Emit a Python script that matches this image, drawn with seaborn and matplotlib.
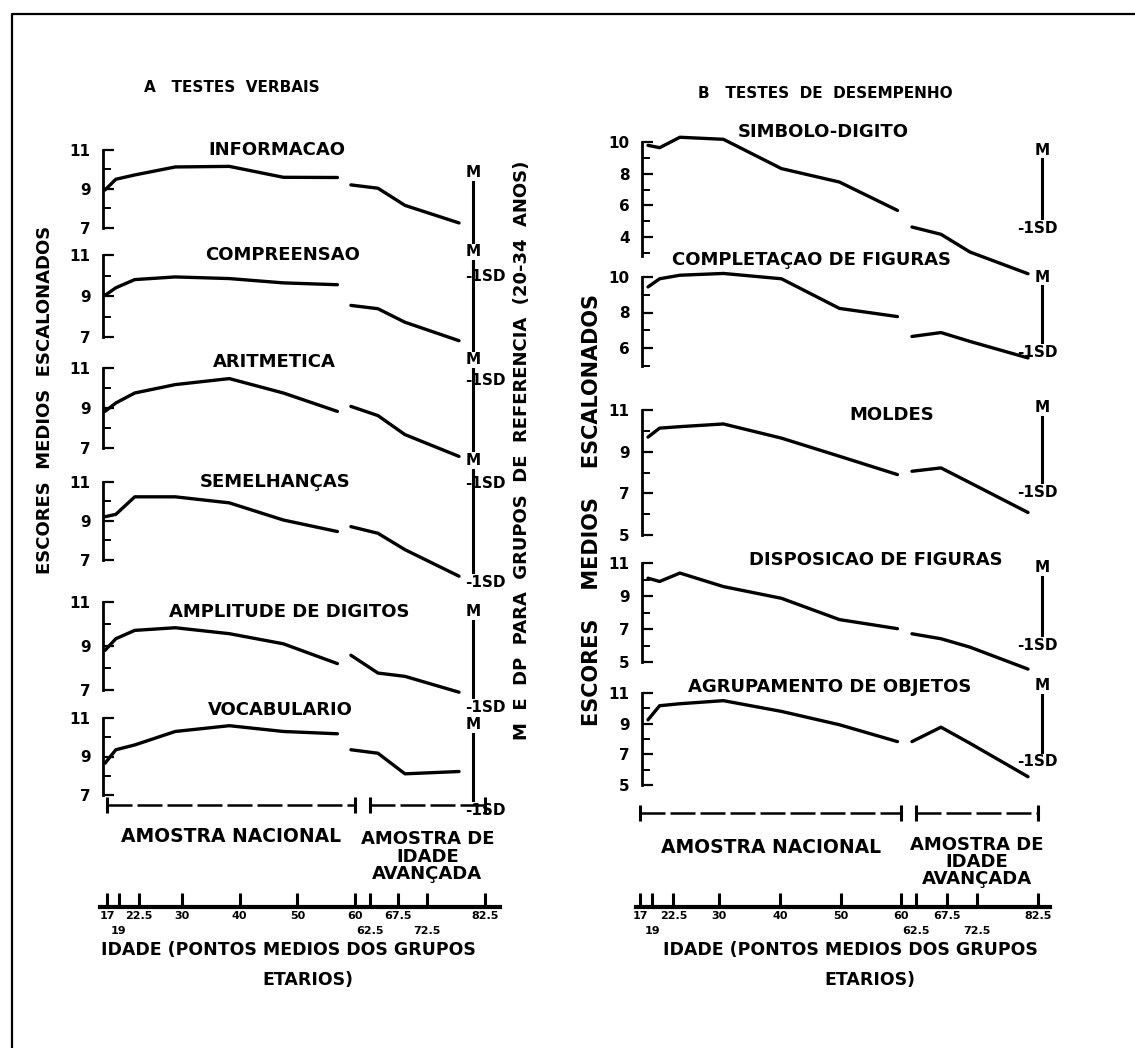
import matplotlib
matplotlib.use("Agg")
import matplotlib.pyplot as plt
import matplotlib.transforms as mtransforms
from matplotlib.lines import Line2D
import seaborn as sns

# ==========================================
# DATA
# ==========================================

ages_nat = [17, 19, 22.5, 30, 40, 50, 60]
ages_old = [62.5, 67.5, 72.5, 82.5]

# age axis labels are printed on two staggered rows
age_ticks_top = [17, 22.5, 30, 40, 50, 60, 67.5, 82.5]
age_labels_top = ["17", "22.5", "30", "40", "50", "60", "67.5", "82.5"]
age_ticks_low = [19, 62.5, 72.5]
age_labels_low = ["19", "62.5", "72.5"]

# A - verbal tests
verbal_names = ["INFORMACAO", "COMPREENSAO", "ARITMETICA",
                "SEMELHANÇAS", "AMPLITUDE DE DIGITOS", "VOCABULARIO"]

info_nat = [8.95, 9.5, 9.72, 10.13, 10.16, 9.6, 9.59]
info_old = [9.21, 9.04, 8.16, 7.26]
comp_nat = [9.03, 9.4, 9.8, 9.93, 9.85, 9.64, 9.55]
comp_old = [8.54, 8.38, 7.72, 6.82]
arit_nat = [8.83, 9.25, 9.75, 10.17, 10.47, 9.75, 8.83]
arit_old = [9.08, 8.62, 7.67, 6.58]
seme_nat = [9.22, 9.34, 10.24, 10.24, 9.93, 9.05, 8.46]
seme_old = [8.71, 8.37, 7.53, 6.17]
ampl_nat = [8.8, 9.33, 9.71, 9.83, 9.56, 9.1, 8.2]
ampl_old = [8.58, 7.77, 7.62, 6.9]
voca_nat = [8.65, 9.35, 9.6, 10.3, 10.6, 10.3, 10.18]
voca_old = [9.35, 9.17, 8.1, 8.22]

verbal_nat = [info_nat, comp_nat, arit_nat, seme_nat, ampl_nat, voca_nat]
verbal_old = [info_old, comp_old, arit_old, seme_old, ampl_old, voca_old]

# mean and -1 SD of reference group (20-34), in each subtest's scale
verbal_m = [9.83, 11.15, 11.4, 12.1, 10.55, 10.64]
verbal_sd = [4.52, 4.87, 5.25, 5.85, 6.2, 6.2]

# B - performance tests
perf_names = ["SIMBOLO-DIGITO", "COMPLETAÇAO DE FIGURAS", "MOLDES",
              "DISPOSICAO DE FIGURAS", "AGRUPAMENTO DE OBJETOS"]

simb_nat = [9.79, 9.64, 10.3, 10.17, 8.32, 7.47, 5.68]
simb_old = [4.63, 4.17, 3.05, 1.68]
cfig_nat = [9.44, 9.9, 10.1, 10.2, 9.9, 8.23, 7.77]
cfig_old = [6.65, 6.87, 6.37, 5.44]
mold_nat = [9.7, 10.13, 10.2, 10.33, 9.65, 8.78, 7.9]
mold_old = [8.06, 8.22, 7.51, 6.08]
disp_nat = [10.08, 9.88, 10.39, 9.57, 8.86, 7.57, 7.02]
disp_old = [6.71, 6.41, 5.9, 4.57]
agru_nat = [9.25, 10.17, 10.3, 10.5, 9.8, 8.93, 7.83]
agru_old = [7.83, 8.77, 7.72, 5.54]

perf_nat = [simb_nat, cfig_nat, mold_nat, disp_nat, agru_nat]
perf_old = [simb_old, cfig_old, mold_old, disp_old, agru_old]

perf_m = [9.49, 10.0, 11.1, 10.7, 11.5]
perf_sd = [4.56, 5.75, 7.06, 6.0, 6.5]

verbal_yticks = [[11, 9, 7]] * 6
perf_yticks = [[10, 8, 6, 4], [10, 8, 6], [11, 9, 7, 5], [11, 9, 7, 5], [11, 9, 7, 5]]

# ==========================================
# LAYOUT (pixels of the 1135x1048 page)
# ==========================================

W, H = 1135, 1048

# (pixel of top tick, pixel of bottom tick)
verbal_rows = [(150, 228), (255, 337), (368, 448), (482, 560), (602, 690), (718, 795)]
perf_rows = [(142, 237), (277, 348), (410, 535), (563, 662), (693, 785)]
verbal_spine_low = [7, 7, 7, 7, 7, 7]
perf_spine_low = [2.8, 5, 5, 5, 5]

verbal_title_xy = [(277, 150), (283, 255), (274, 362), (275, 482), (289, 612), (280, 710)]
perf_title_xy = [(823, 132), (812, 260), (892, 415), (876, 560), (830, 687)]

sns.set_style("white")
plt.rcParams["font.family"] = ["DejaVu Sans"]
plt.rcParams["font.weight"] = "bold"
plt.rcParams["text.color"] = "black"
plt.rcParams["xtick.color"] = "black"
plt.rcParams["ytick.color"] = "black"
plt.rcParams["axes.edgecolor"] = "black"

fig = plt.figure(figsize=(W / 100, H / 100), dpi=100)


def px_axes(x0, x1, y0, y1):
    ax = fig.add_axes([x0 / W, 1 - y1 / H, (x1 - x0) / W, (y1 - y0) / H])
    ax.patch.set_visible(False)
    return ax


def fig_text(x, y, s, **kw):
    fig.text(x / W, 1 - y / H, s, **kw)


def score_panel(names, nat, old, m, sd, ticks, rows, spine_low, title_xy,
                x0, x1, age_px, bar_px, sd_shift):
    # linear age scale anchored on the first and last plotted ages
    slope = (age_px[1] - age_px[0]) / (82.5 - 17)
    xlim = (17 - (age_px[0] - x0) / slope, 17 + (x1 - age_px[0]) / slope)
    bar_x = (bar_px - x0) / (x1 - x0)

    for i, name in enumerate(names):
        p_hi, p_lo = rows[i]
        v_hi, v_lo = ticks[i][0], ticks[i][-1]
        upp = (v_hi - v_lo) / (p_lo - p_hi)
        pad = 45
        ax = px_axes(x0, x1, p_hi - pad, p_lo + pad)
        ax.set_ylim(v_lo - pad * upp, v_hi + pad * upp)

        sns.lineplot(x=ages_nat, y=nat[i], ax=ax, color="black",
                     linewidth=2.4, clip_on=False, zorder=3)
        sns.lineplot(x=ages_old, y=old[i], ax=ax, color="black",
                     linewidth=2.4, clip_on=False, zorder=3)
        ax.set_xlim(xlim)

        sns.despine(ax=ax, top=True, right=True, bottom=True)
        ax.spines["left"].set_bounds(spine_low[i], v_hi)
        ax.spines["left"].set_linewidth(2)
        ax.set_xticks([])
        ax.set_yticks(ticks[i])
        minor = [t - 1 for t in ticks[i][:-1]]
        if spine_low[i] < v_lo:
            minor.append(v_lo - 1)
        ax.set_yticks(minor, minor=True)
        ax.tick_params(axis="y", which="major", direction="in", length=8,
                       width=1.6, labelsize=11, pad=9, left=True)
        ax.tick_params(axis="y", which="minor", direction="in", length=6,
                       width=1.4, left=True)
        ax.set_ylabel("")

        # M and -1SD of the reference group
        trans = ax.get_yaxis_transform()
        ax.plot([bar_x, bar_x], [m[i], sd[i]], transform=trans,
                color="black", linewidth=2.2, clip_on=False, zorder=1)
        ax.text(bar_x, m[i], "M", transform=trans, ha="center",
                va="center", fontsize=11, zorder=2,
                bbox=dict(fc="white", ec="none", pad=0.6))
        shift = mtransforms.offset_copy(trans, fig=fig, x=sd_shift, y=0,
                                        units="points")
        ax.text(bar_x, sd[i], "-1SD", transform=shift, ha="left",
                va="center", fontsize=11, zorder=2,
                bbox=dict(fc="white", ec="none", pad=0.6))

        fig_text(title_xy[i][0], title_xy[i][1], name, ha="center",
                 va="center", fontsize=13)


def age_axis(x0, x1, tick_px, y_bracket, y_nat, y_old, label_x):
    slope = (tick_px[1] - tick_px[0]) / (82.5 - 17)
    xlim = (17 - (tick_px[0] - x0) / slope, 17 + (x1 - tick_px[0]) / slope)
    ax = px_axes(x0, x1, 790, 907)
    ax.set_xlim(xlim)
    ax.set_ylim(0, 1)
    sns.despine(ax=ax, left=True)
    ax.spines["bottom"].set_linewidth(3)
    ax.set_yticks([])
    ax.set_xticks(age_ticks_top)
    ax.set_xticklabels(age_labels_top, fontsize=8)
    ax.set_xticks(age_ticks_low, minor=True)
    ax.set_xticklabels(age_labels_low, minor=True, fontsize=8)
    ax.tick_params(axis="x", which="major", direction="in", length=10,
                   width=2.2, pad=3, bottom=True)
    ax.tick_params(axis="x", which="minor", direction="in", length=10,
                   width=2.2, pad=14, bottom=True)

    # sample brackets
    for span in ([ages_nat[0], ages_nat[-1]], [ages_old[0], ages_old[-1]]):
        ax.plot(span, [y_bracket, y_bracket], color="black", linewidth=1.8,
                linestyle=(0, (10, 2)), marker="|", markersize=11,
                markeredgewidth=2.2, clip_on=False)
    ax.text((ages_nat[0] + ages_nat[-1]) / 2, y_nat, "AMOSTRA NACIONAL",
            ha="center", va="center", fontsize=13.5)
    ax.text((ages_old[0] + ages_old[-1]) / 2, y_old,
            "AMOSTRA DE\nIDADE\nAVANÇADA", ha="center", va="center",
            fontsize=13, linespacing=0.95)

    fig_text(label_x, 950, "IDADE (PONTOS MEDIOS DOS GRUPOS", ha="center",
             va="center", fontsize=12.5)
    fig_text(label_x + 20, 980, "ETARIOS)", ha="center", va="center",
             fontsize=12.5)


# ==========================================
# A - TESTES VERBAIS
# ==========================================

score_panel(verbal_names, verbal_nat, verbal_old, verbal_m, verbal_sd,
            verbal_yticks, verbal_rows, verbal_spine_low, verbal_title_xy,
            x0=103, x1=530, age_px=(105, 459), bar_px=473, sd_shift=-6)
age_axis(100, 500, (107, 485), 0.87, 0.6, 0.43, 288)

fig_text(232, 88, "A   TESTES  VERBAIS", ha="center", va="center",
         fontsize=11)
fig_text(45, 400, "ESCORES  MEDIOS  ESCALONADOS", ha="center", va="center",
         fontsize=13, rotation=90)
fig_text(522, 450, "M  E  DP  PARA  GRUPOS  DE  REFERENCIA  (20-34  ANOS)",
         ha="center", va="center", fontsize=13, rotation=90)

# ==========================================
# B - TESTES DE DESEMPENHO
# ==========================================

score_panel(perf_names, perf_nat, perf_old, perf_m, perf_sd,
            perf_yticks, perf_rows, perf_spine_low, perf_title_xy,
            x0=642, x1=1100, age_px=(648, 1028), bar_px=1042, sd_shift=-18)
age_axis(636, 1050, (640, 1038), 0.80, 0.51, 0.385, 850)

fig_text(825, 93, "B   TESTES  DE  DESEMPENHO", ha="center", va="center",
         fontsize=11)
fig_text(592, 510, "ESCORES    MEDIOS    ESCALONADOS", ha="center",
         va="center", fontsize=15, rotation=90)

# page frame of the scan (left and top edges)
fig.add_artist(Line2D([12 / W, 12 / W, 1], [0, 1 - 14 / H, 1 - 14 / H],
                      transform=fig.transFigure, color="black",
                      linewidth=1.6))

fig.savefig("out.png", dpi=100, facecolor="white")
